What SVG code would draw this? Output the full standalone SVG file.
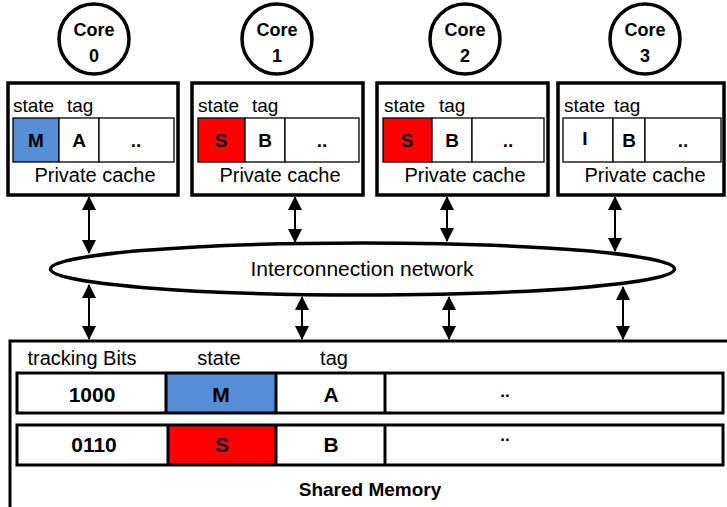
<svg xmlns="http://www.w3.org/2000/svg" width="727" height="507" viewBox="0 0 727 507">
  <defs>
    <style>
      text { font-family: "Liberation Sans", Arial, sans-serif; fill: #000; }
      .b { font-weight: bold; }
      .core { fill: #fff; stroke: #000; stroke-width: 3.5; }
      .cache { fill: #fff; stroke: #000; stroke-width: 3.5; }
      .cell { fill: #fff; stroke: #000; stroke-width: 1.3; }
      .mrow { fill: none; stroke: #000; stroke-width: 3; }
      .mdiv { stroke: #000; stroke-width: 3; }
      .blue { fill: #558ED5; }
      .red { fill: #FF0000; }
      .lbl { font-size: 19px; }
      .cl { font-size: 19px; font-weight: bold; }
      .ml { font-size: 21px; font-weight: bold; }
      .link { stroke: #000; stroke-width: 2; fill: none; marker-start: url(#ah); marker-end: url(#ah); }
    </style>
    <marker id="ah" viewBox="0 0 14 14" refX="13" refY="7" markerWidth="14" markerHeight="14" markerUnits="userSpaceOnUse" orient="auto-start-reverse">
      <path d="M0,0 L14,7 L0,14 Z" fill="#000"/>
    </marker>
  </defs>

  <rect width="727" height="507" fill="#fff"/>

  <!-- cores -->
  <g id="core0">
    <circle class="core" cx="94" cy="39" r="35"/>
    <text class="b" x="94" y="36" font-size="18" text-anchor="middle">Core</text>
    <text class="b" x="94" y="62" font-size="18" text-anchor="middle">0</text>
  </g>
  <g id="core1">
    <circle class="core" cx="277" cy="39" r="35"/>
    <text class="b" x="277" y="36" font-size="18" text-anchor="middle">Core</text>
    <text class="b" x="277" y="62" font-size="18" text-anchor="middle">1</text>
  </g>
  <g id="core2">
    <circle class="core" cx="465" cy="39" r="35"/>
    <text class="b" x="465" y="36" font-size="18" text-anchor="middle">Core</text>
    <text class="b" x="465" y="62" font-size="18" text-anchor="middle">2</text>
  </g>
  <g id="core3">
    <circle class="core" cx="645" cy="39" r="35"/>
    <text class="b" x="645" y="36" font-size="18" text-anchor="middle">Core</text>
    <text class="b" x="645" y="62" font-size="18" text-anchor="middle">3</text>
  </g>

  <!-- private caches -->
  <g id="cache0">
    <rect class="cache" x="8" y="83" width="170" height="112"/>
    <text class="lbl" x="13" y="112">state</text>
    <text class="lbl" x="67" y="112">tag</text>
    <rect class="cell blue" x="13" y="118" width="46" height="44"/>
    <rect class="cell" x="59" y="118" width="40" height="44"/>
    <rect class="cell" x="99" y="118" width="75" height="44"/>
    <text class="cl" x="36" y="147" text-anchor="middle">M</text>
    <text class="cl" x="79" y="147" text-anchor="middle">A</text>
    <text class="cl" x="136" y="147" text-anchor="middle">..</text>
    <text x="95" y="182" font-size="20" text-anchor="middle">Private cache</text>
  </g>
  <g id="cache1">
    <rect class="cache" x="192" y="83" width="171" height="112"/>
    <text class="lbl" x="198" y="112">state</text>
    <text class="lbl" x="252" y="112">tag</text>
    <rect class="cell red" x="198" y="118" width="47" height="44"/>
    <rect class="cell" x="245" y="118" width="40" height="44"/>
    <rect class="cell" x="285" y="118" width="74" height="44"/>
    <text class="cl" x="221" y="147" text-anchor="middle">S</text>
    <text class="cl" x="265" y="147" text-anchor="middle">B</text>
    <text class="cl" x="322" y="147" text-anchor="middle">..</text>
    <text x="280" y="182" font-size="20" text-anchor="middle">Private cache</text>
  </g>
  <g id="cache2">
    <rect class="cache" x="377" y="83" width="171" height="112"/>
    <text class="lbl" x="384" y="112">state</text>
    <text class="lbl" x="439" y="112">tag</text>
    <rect class="cell red" x="383" y="118" width="49" height="44"/>
    <rect class="cell" x="432" y="118" width="40" height="44"/>
    <rect class="cell" x="472" y="118" width="72" height="44"/>
    <text class="cl" x="407" y="147" text-anchor="middle">S</text>
    <text class="cl" x="452" y="147" text-anchor="middle">B</text>
    <text class="cl" x="508" y="147" text-anchor="middle">..</text>
    <text x="465" y="182" font-size="20" text-anchor="middle">Private cache</text>
  </g>
  <g id="cache3">
    <rect class="cache" x="558" y="83" width="166" height="112"/>
    <text class="lbl" x="564" y="112">state</text>
    <text class="lbl" x="614" y="112">tag</text>
    <rect class="cell" x="563" y="118" width="50" height="44"/>
    <rect class="cell" x="613" y="118" width="32" height="44"/>
    <rect class="cell" x="645" y="118" width="76" height="44"/>
    <text class="cl" x="585" y="145" text-anchor="middle">I</text>
    <text class="cl" x="629" y="147" text-anchor="middle">B</text>
    <text class="cl" x="683" y="147" text-anchor="middle">..</text>
    <text x="645" y="182" font-size="20" text-anchor="middle">Private cache</text>
  </g>

  <!-- interconnection network -->
  <g id="network">
    <ellipse cx="362.5" cy="269" rx="312" ry="26" fill="#fff" stroke="#000" stroke-width="3.5"/>
    <text x="362" y="276" font-size="21" text-anchor="middle">Interconnection network</text>
  </g>

  <!-- shared memory -->
  <g id="memory">
    <rect x="10" y="341" width="740" height="200" fill="#fff" stroke="#000" stroke-width="3"/>
    <text x="82" y="365" font-size="20" text-anchor="middle">tracking Bits</text>
    <text x="219" y="365" font-size="20" text-anchor="middle">state</text>
    <text x="334" y="365" font-size="20" text-anchor="middle">tag</text>

    <rect class="blue" x="166" y="373" width="110" height="40"/>
    <rect class="mrow" x="17" y="373" width="706" height="40"/>
    <line class="mdiv" x1="166" y1="373" x2="166" y2="413"/>
    <line class="mdiv" x1="276" y1="373" x2="276" y2="413"/>
    <line class="mdiv" x1="385" y1="373" x2="385" y2="413"/>
    <text class="ml" x="92" y="402" text-anchor="middle">1000</text>
    <text class="ml" x="221" y="402" text-anchor="middle">M</text>
    <text class="ml" x="331" y="402" text-anchor="middle">A</text>
    <text class="b" x="505" y="397" font-size="17" text-anchor="middle">..</text>

    <rect class="red" x="168" y="425" width="108" height="40"/>
    <rect class="mrow" x="17" y="425" width="706" height="40"/>
    <line class="mdiv" x1="168" y1="425" x2="168" y2="465"/>
    <line class="mdiv" x1="276" y1="425" x2="276" y2="465"/>
    <line class="mdiv" x1="385" y1="425" x2="385" y2="465"/>
    <text class="ml" x="94" y="452" text-anchor="middle">0110</text>
    <text class="ml" x="222" y="452" text-anchor="middle">S</text>
    <text class="ml" x="331" y="452" text-anchor="middle">B</text>
    <text class="b" x="505" y="441" font-size="17" text-anchor="middle">..</text>

    <text class="b" x="370" y="496" font-size="19" text-anchor="middle">Shared Memory</text>
  </g>

  <!-- connectors -->
  <g id="links">
    <line class="link" x1="89" y1="197" x2="89" y2="253"/>
    <line class="link" x1="295" y1="197" x2="295" y2="242"/>
    <line class="link" x1="447" y1="197" x2="447" y2="241"/>
    <line class="link" x1="615" y1="197" x2="615" y2="251"/>
    <line class="link" x1="89" y1="285" x2="89" y2="339"/>
    <line class="link" x1="302" y1="297" x2="302" y2="339"/>
    <line class="link" x1="449" y1="297" x2="449" y2="339"/>
    <line class="link" x1="623" y1="287" x2="623" y2="339"/>
  </g>
</svg>
